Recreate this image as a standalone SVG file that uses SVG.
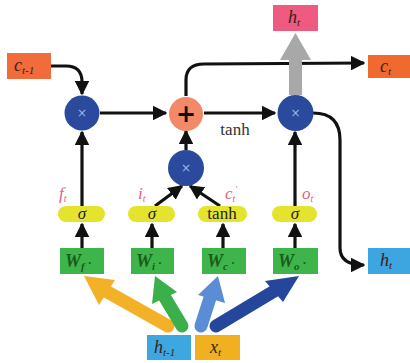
<svg xmlns="http://www.w3.org/2000/svg" width="410" height="363" viewBox="0 0 410 363">
<defs>
<style>
.t{font-family:"Liberation Serif",serif;font-style:italic}
.lbl{fill:#E8607A;font-size:17px}
.bx{fill:#3A2018;font-size:18px}
.w{fill:#1C5A1C;font-size:18px;font-weight:bold}
.g{fill:#E4E42E}
.gn{fill:#3DB54A}
.mul{fill:#2B4A9E}
.x{fill:#9DB4E8;font-family:"DejaVu Sans",sans-serif;font-size:12px;text-anchor:middle}
.ln{stroke:#111;stroke-width:3.2;fill:none}
.st{fill:#222;font-family:"Liberation Serif",serif;font-size:17px;text-anchor:middle}
</style>
<marker id="ah" viewBox="0 0 10 10" refX="9" refY="5" markerWidth="4.6" markerHeight="4.6" orient="auto" markerUnits="strokeWidth">
<path d="M0,0 L10,5 L0,10 z" fill="#111"/>
</marker>
</defs>
<rect width="410" height="363" fill="#fff"/>

<g id="connectors">
<path class="ln" d="M51,66 L66,66 Q82,66 82,82 L82,94" marker-end="url(#ah)"/>
<path class="ln" d="M100,113 L166,113" marker-end="url(#ah)"/>
<path class="ln" d="M204,113 L275,113" marker-end="url(#ah)"/>
<path class="ln" d="M186,96 L186,80 Q186,64 204,64 L364,63" marker-end="url(#ah)"/>
<path class="ln" d="M313,113 Q340,113 340,140 L340,248 Q340,265 364,265" marker-end="url(#ah)"/>
<path class="ln" d="M186,150 L186,131" marker-end="url(#ah)"/>
<path class="ln" d="M82,206 L82,132" marker-end="url(#ah)"/>
<path class="ln" d="M295,206 L295,132" marker-end="url(#ah)"/>
<path class="ln" d="M155,206 L182,186" marker-end="url(#ah)"/>
<path class="ln" d="M220,206 L190,186" marker-end="url(#ah)"/>
<path class="ln" d="M82,248 L82,224" marker-end="url(#ah)"/>
<path class="ln" d="M152,248 L152,224" marker-end="url(#ah)"/>
<path class="ln" d="M223,248 L223,224" marker-end="url(#ah)"/>
<path class="ln" d="M295,248 L295,224" marker-end="url(#ah)"/>
<path d="M289,95 L289,60 L280,60 L295.5,33 L311,60 L302,60 L302,95 z" fill="#A8A8A8"/>
<g stroke-linecap="round">
<line x1="168" y1="326" x2="104" y2="290" stroke="#F2B127" stroke-width="13"/>
<path d="M84,276 L115,280 L99,305 z" fill="#F2B127"/>
<line x1="182" y1="326" x2="164" y2="296" stroke="#3AAF4A" stroke-width="13"/>
<path d="M155,276 L177,292 L152,304 z" fill="#3AAF4A"/>
<line x1="201" y1="326" x2="210" y2="298" stroke="#5B8CD6" stroke-width="13"/>
<path d="M218,276 L225,303 L198,295 z" fill="#5B8CD6"/>
<line x1="216" y1="326" x2="276" y2="290" stroke="#24479C" stroke-width="13"/>
<path d="M299,276 L283,302 L265,281 z" fill="#24479C"/>
</g>
</g>

<g id="c_prev"><rect x="7" y="53" width="44" height="26" fill="#F26B3A"/>
<text class="t bx" x="14" y="71">c<tspan font-size="11" dy="3">t-1</tspan></text></g>
<g id="h_top"><rect x="273" y="5" width="45" height="26" fill="#EE5A80"/>
<text class="t bx" x="288" y="23">h<tspan font-size="11" dy="3">t</tspan></text></g>
<g id="c_t"><rect x="368" y="55" width="42" height="23" fill="#F0692E"/>
<text class="t bx" x="380" y="72">c<tspan font-size="11" dy="3">t</tspan></text></g>
<g id="h_t"><rect x="368" y="248" width="42" height="26" fill="#3DA5E0"/>
<text class="t bx" x="380" y="266" fill="#1C2A5A">h<tspan font-size="11" dy="3">t</tspan></text></g>
<g id="h_prev"><rect x="147" y="335" width="44" height="25" fill="#3DA8E0"/>
<text class="t bx" x="154" y="353" fill="#1C2A5A">h<tspan font-size="11" dy="3">t-1</tspan></text></g>
<g id="x_t"><rect x="195" y="335" width="45" height="25" fill="#F0B020"/>
<text class="t bx" x="210" y="353">x<tspan font-size="11" dy="3">t</tspan></text></g>

<g id="mul_f"><circle class="mul" cx="82" cy="113" r="17.5"/><text class="x" x="82" y="117">×</text></g>
<g id="plus"><circle cx="186" cy="114" r="17" fill="#F28A68"/><text x="186" y="122" font-family="DejaVu Sans,sans-serif" font-size="24" font-weight="bold" fill="#111" text-anchor="middle">+</text></g>
<g id="mul_i"><circle class="mul" cx="186" cy="168" r="18"/><text class="x" x="186" y="172">×</text></g>
<g id="mul_o"><circle class="mul" cx="295.5" cy="113" r="18"/><text class="x" x="295.5" y="117">×</text></g>
<text x="235" y="135" font-family="Liberation Serif,serif" font-size="17" fill="#333" text-anchor="middle">tanh</text>

<g id="gate_f"><text class="t lbl" x="59" y="199">f<tspan font-size="10" dy="3">t</tspan></text>
<rect class="g" x="58" y="206" width="47" height="16" rx="8"/><text class="st t" x="82" y="219">σ</text>
<rect class="gn" x="60" y="248" width="44" height="26"/><text class="t w" x="65" y="267">W<tspan font-size="11" dy="3">f</tspan><tspan dy="-3" font-size="12" font-style="normal"> ·</tspan></text></g>
<g id="gate_i"><text class="t lbl" x="138" y="199">i<tspan font-size="10" dy="3">t</tspan></text>
<rect class="g" x="128" y="206" width="47" height="16" rx="8"/><text class="st t" x="152" y="219">σ</text>
<rect class="gn" x="131" y="248" width="43" height="26"/><text class="t w" x="136" y="267">W<tspan font-size="11" dy="3">i</tspan><tspan dy="-3" font-size="12" font-style="normal"> ·</tspan></text></g>
<g id="gate_c"><text class="t lbl" x="225" y="199">c<tspan font-size="10" dy="3">t</tspan><tspan font-size="9" dy="-10">′</tspan></text>
<rect class="g" x="198" y="206" width="49" height="16" rx="8"/><text class="st" x="222" y="219">tanh</text>
<rect class="gn" x="202" y="248" width="44" height="26"/><text class="t w" x="207" y="267">W<tspan font-size="11" dy="3">c</tspan><tspan dy="-3" font-size="12" font-style="normal"> ·</tspan></text></g>
<g id="gate_o"><text class="t lbl" x="302" y="199">o<tspan font-size="10" dy="3">t</tspan></text>
<rect class="g" x="272" y="206" width="45" height="16" rx="8"/><text class="st t" x="295" y="219">σ</text>
<rect class="gn" x="273" y="248" width="45" height="26"/><text class="t w" x="278" y="267">W<tspan font-size="11" dy="3">o</tspan><tspan dy="-3" font-size="12" font-style="normal"> ·</tspan></text></g>
</svg>
